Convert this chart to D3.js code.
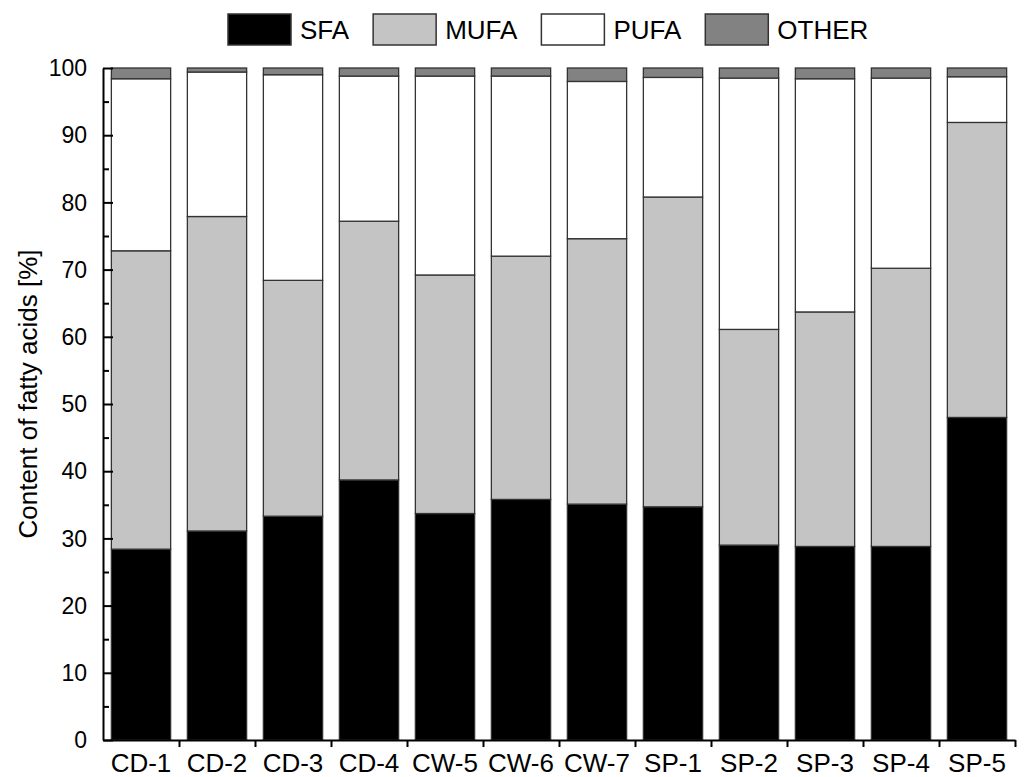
<!DOCTYPE html>
<html>
<head>
<meta charset="utf-8">
<script src="https://cdn.jsdelivr.net/npm/d3@7"></script>
<style>
  html, body { margin: 0; padding: 0; background: #fff; }
  svg { display: block; }
  text { font-family: Arial, "Liberation Sans", sans-serif; fill: #000; }
</style>
</head>
<body>
<svg id="chart" width="1027" height="777"></svg>
<script>
// ---- data ----
const categories = ["CD-1", "CD-2", "CD-3", "CD-4", "CW-5", "CW-6", "CW-7", "SP-1", "SP-2", "SP-3", "SP-4", "SP-5"];
const seriesNames = ["SFA", "MUFA", "PUFA", "OTHER"];
const sfa   = [28.4, 31.1, 33.3, 38.7, 33.7, 35.8, 35.1, 34.7, 29.0, 28.8, 28.8, 48.0];
const mufa  = [44.4, 46.8, 35.1, 38.5, 35.5, 36.2, 39.5, 46.1, 32.1, 34.9, 41.4, 43.9];
const pufa  = [25.6, 21.5, 30.6, 21.6, 29.6, 26.8, 23.4, 17.8, 37.4, 34.7, 28.3, 6.8];
const other = [1.6, 0.6, 1.0, 1.2, 1.2, 1.2, 2.0, 1.4, 1.5, 1.6, 1.5, 1.3];
const yTicks = [0, 10, 20, 30, 40, 50, 60, 70, 80, 90, 100];
const yTitle = "Content of fatty acids [%]";

(function () {
// ---- build table ----
const seriesValues = [sfa, mufa, pufa, other];
const table = categories.map((c, i) => {
  const row = { cat: c };
  seriesNames.forEach((s, j) => row[s] = seriesValues[j][i]);
  return row;
});
const stacked = d3.stack().keys(seriesNames)(table);

const colors = { SFA: "#000000", MUFA: "#c4c4c4", PUFA: "#ffffff", OTHER: "#828282" };

const svg = d3.select("#chart");
const pLeft = 103, pRight = 1015, pTop = 68, pBottom = 740;

const x = d3.scaleBand().domain(categories).range([pLeft, pRight])
  .paddingInner(0.22).paddingOuter(0.11);
const y = d3.scaleLinear().domain([0, 100]).range([pBottom, pTop]);

// bars
svg.append("g").selectAll("g").data(stacked).join("g")
  .attr("fill", d => colors[d.key])
  .selectAll("rect").data(d => d).join("rect")
  .attr("x", d => x(d.data.cat))
  .attr("y", d => y(d[1]))
  .attr("width", x.bandwidth())
  .attr("height", d => y(d[0]) - y(d[1]))
  .attr("stroke", "#333")
  .attr("stroke-width", 1.3);

// y axis (ticks inward)
const yAxis = d3.axisRight(y).tickValues(yTicks).tickSize(10).tickSizeOuter(0).tickFormat("");
const yg = svg.append("g").attr("transform", `translate(${pLeft},0)`).call(yAxis);
yg.select(".domain").attr("stroke", "#000").attr("stroke-width", 2);
yg.selectAll(".tick line").attr("stroke", "#000").attr("stroke-width", 2);
// minor ticks
const minor = d3.range(5, 100, 10);
const ymg = svg.append("g").attr("transform", `translate(${pLeft},0)`)
  .call(d3.axisRight(y).tickValues(minor).tickSize(6).tickSizeOuter(0).tickFormat(""));
ymg.select(".domain").remove();
ymg.selectAll(".tick line").attr("stroke", "#000").attr("stroke-width", 2);
// y tick labels
svg.append("g").selectAll("text").data(yTicks).join("text")
  .attr("x", pLeft - 16)
  .attr("y", d => y(d))
  .attr("dy", "0.36em")
  .attr("text-anchor", "end")
  .attr("font-size", 23)
  .text(d => d);

// x axis: ticks at category boundaries, pointing down
const xb = d3.scaleLinear().domain([0, categories.length]).range([pLeft, pRight]);
const xg = svg.append("g").attr("transform", `translate(0,${pBottom})`)
  .call(d3.axisBottom(xb).tickValues(d3.range(1, categories.length + 1)).tickSize(7).tickSizeOuter(0).tickFormat(""));
xg.select(".domain").attr("stroke", "#000").attr("stroke-width", 2);
xg.selectAll(".tick line").attr("stroke", "#000").attr("stroke-width", 2);
// x labels
svg.append("g").selectAll("text").data(categories).join("text")
  .attr("x", d => x(d) + x.bandwidth() / 2)
  .attr("y", 772)
  .attr("text-anchor", "middle")
  .attr("font-size", 26)
  .text(d => d);

// y title
svg.append("text")
  .attr("transform", `translate(37,394) rotate(-90)`)
  .attr("text-anchor", "middle")
  .attr("font-size", 26)
  .text(yTitle);

// legend
const lg = svg.append("g");
let lx = 228;
seriesNames.forEach(name => {
  lg.append("rect").attr("x", lx).attr("y", 14).attr("width", 63).attr("height", 31)
    .attr("fill", colors[name]).attr("stroke", "#333").attr("stroke-width", 1.5);
  const t = lg.append("text").attr("x", lx + 72).attr("y", 39).attr("font-size", 26).text(name);
  lx += 72 + t.node().getComputedTextLength() + 24;
});
})();
</script>
</body>
</html>
